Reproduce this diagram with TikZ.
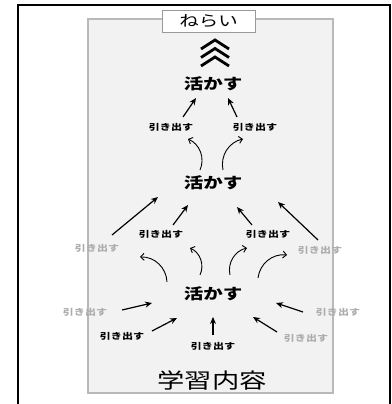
\documentclass[tikz,border=0pt]{standalone}
\usepackage{fontspec}
\usepackage{graphicx}
\newfontfamily\jp{Noto Sans CJK JP}
\usetikzlibrary{arrows.meta}

% wide-set lettering, as in the scanned chart
\newcommand{\wide}[1]{\scalebox{1.3}[1]{#1}}

\tikzset{
  katsu/.style={font=\jp\bfseries\fontsize{15}{15}\selectfont, inner sep=1pt},
  hiki/.style={font=\jp\bfseries\fontsize{8.5}{9}\selectfont, inner sep=1pt},
  faint/.style={hiki, text=gray!65},
  up/.style={-{Stealth[length=7pt,width=6pt]}, line width=1.2pt},
  curl/.style={-{Straight Barb[length=3.5pt,width=7pt]}, line width=0.9pt}
}

\begin{document}
\begin{tikzpicture}[x=1pt, y=1pt]
        \useasboundingbox (0,0) rectangle (391,404);

        % 1. Frame and grey panel
        \draw[line width=2pt] (18,0) -- (18,399) -- (390,399) -- (390,0);
        \draw[gray!55, fill=gray!10, line width=1.2pt] (88,11) rectangle (333,385);

        % Title box and the chevrons under it
        \node[draw=gray!80, fill=white, minimum width=93pt, minimum height=22pt,
              font=\jp\fontsize{15}{15}\selectfont] (AIM) at (208.5,383) {\wide{ねらい}};
        \foreach \y in {364,355.5,347}
            \draw[line width=2.8pt] (201,\y-9) -- (215,\y) -- (229,\y-9);

        % 2. The three levels
        \node[katsu] (K1) at (213,320) {\wide{活かす}};   % Top
        \node[katsu] (K2) at (213,221) {\wide{活かす}};   % Middle
        \node[katsu] (K3) at (213,110) {\wide{活かす}};   % Bottom

        % Labels, top tier
        \node[hiki] (H1) at (171,277) {\wide{引き出す}};
        \node[hiki] (H2) at (255,277) {\wide{引き出す}};

        % Labels, middle tier
        \node[hiki]  (H3) at (161,170) {\wide{引き出す}};
        \node[hiki]  (H4) at (268,170) {\wide{引き出す}};
        \node[faint] (H5) at (97,156)  {\wide{引き出す}};
        \node[faint] (H6) at (320,154) {\wide{引き出す}};

        % Labels, bottom tier
        \node[faint] (H7)  at (85,92)  {\wide{引き出す}};
        \node[hiki]  (H8)  at (122,68) {\wide{引き出す}};
        \node[hiki]  (H9)  at (213,58) {\wide{引き出す}};
        \node[faint] (H10) at (306,66) {\wide{引き出す}};
        \node[faint] (H11) at (338,92) {\wide{引き出す}};

        % Base
        \node[font=\jp\fontsize{21}{21}\selectfont] (BASE) at (212,24) {\wide{学習内容}};

        % 3. Arrow ends
        % top tier
        \coordinate (a1) at (183,287);  \coordinate (b1) at (196,306);
        \coordinate (a2) at (237,287);  \coordinate (b2) at (228,306);
        % middle tier
        \coordinate (a3) at (112,169);  \coordinate (b3) at (158,207);
        \coordinate (a4) at (173,179);  \coordinate (b4) at (188,199);
        \coordinate (a5) at (252,179);  \coordinate (b5) at (237,197);
        \coordinate (a6) at (318,164);  \coordinate (b6) at (278,202);
        % bottom tier
        \coordinate (a7)  at (122,94);  \coordinate (b7)  at (152,101);
        \coordinate (a8)  at (152,73);  \coordinate (b8)  at (177,86);
        \coordinate (a9)  at (213,69);  \coordinate (b9)  at (213,87);
        \coordinate (a10) at (277,72);  \coordinate (b10) at (253,87);
        \coordinate (a11) at (303,92);  \coordinate (b11) at (276,101);

        % curls leaving the middle and bottom levels
        \coordinate (c1) at (200,234);  \coordinate (d1) at (188,265);
        \coordinate (c2) at (223,234);  \coordinate (d2) at (243,265);
        \coordinate (c3) at (167,122);  \coordinate (d3) at (140,147);
        \coordinate (c4) at (200,129);  \coordinate (d4) at (190,156);
        \coordinate (c5) at (230,129);  \coordinate (d5) at (247,156);
        \coordinate (c6) at (258,126);  \coordinate (d6) at (287,149);

        % 4. Draw the arrows
        \foreach \n in {1,...,11}
            \draw[up] (a\n) -- (b\n);

        \foreach \n in {1,3,4}
            \draw[curl] (c\n) to[bend right=45] (d\n);
        \foreach \n in {2,5,6}
            \draw[curl] (c\n) to[bend left=45] (d\n);

    \end{tikzpicture}
\end{document}
